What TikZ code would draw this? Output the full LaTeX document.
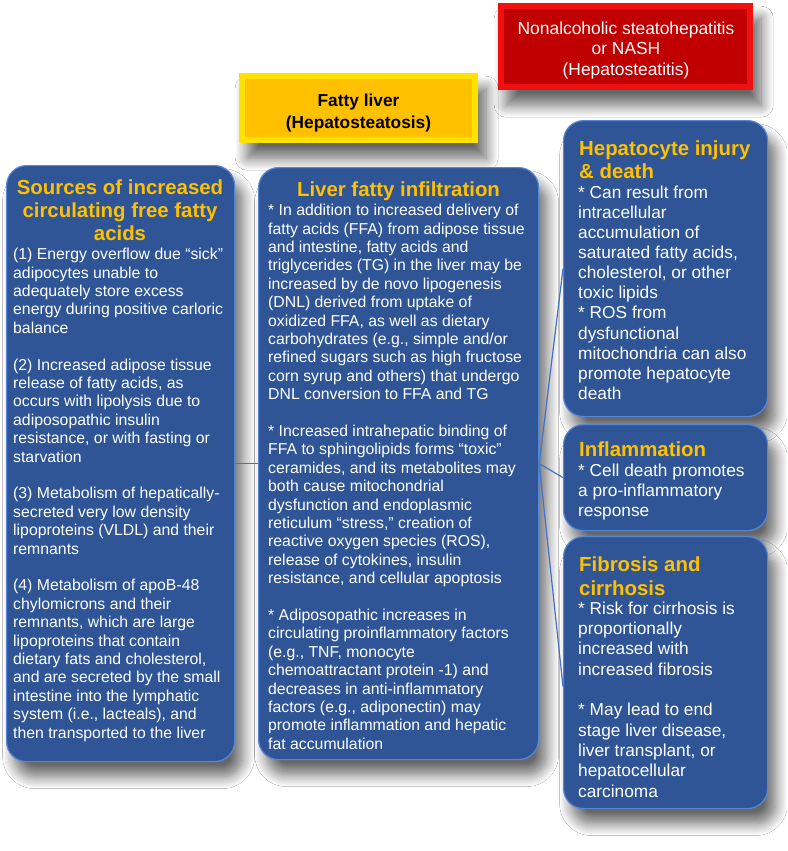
\documentclass[tikz,border=0pt]{standalone}
\usepackage{fontspec}
\setmainfont{Liberation Sans}
\usetikzlibrary{shadows.blur}
\definecolor{boxblue}{RGB}{47,85,151}
\definecolor{edgeblue}{RGB}{86,134,214}
\definecolor{ttl}{RGB}{255,192,0}
\definecolor{linkblue}{RGB}{68,114,196}
\definecolor{redmain}{RGB}{192,0,0}
\definecolor{rededge}{RGB}{240,16,16}
\definecolor{yelmain}{RGB}{255,192,0}
\definecolor{yeledge}{RGB}{255,226,0}
\begin{document}
\begin{tikzpicture}[x=1pt,y=-1pt,
  shad/.style={blur shadow={shadow xshift=8pt,shadow yshift=-15pt,shadow blur radius=12pt,shadow blur steps=14,shadow opacity=60}},
  bluebox/.style={shad, rounded corners=20pt, fill=boxblue, draw=edgeblue, line width=1.2pt, inner sep=0pt, anchor=north west},
  flatbox/.style={shad, inner sep=0pt, anchor=north west},
  ttlfont/.style={font=\bfseries\fontsize{20.4}{23.2}\selectfont, text=ttl, inner sep=0pt},
  bodyL/.style={font=\fontsize{15.8}{18.4}\selectfont, text=white, align=left, inner sep=0pt, anchor=north west},
  bodyR/.style={font=\fontsize{17.3}{20.1}\selectfont, text=white, align=left, inner sep=0pt, anchor=north west},
  link/.style={draw=linkblue, line width=1.2pt}
]
\fill[white] (0,0) rectangle (787,851);
\useasboundingbox (0,0) rectangle (787,851);

% top boxes
\node[flatbox, fill=rededge, minimum width=255pt, minimum height=87pt] (nash) at (498,3) {};
\fill[redmain] ([shift={(6,6)}]nash.north west) rectangle ([shift={(-6,-6)}]nash.south east);
\node[anchor=north, font=\fontsize{17.4}{20.5}\selectfont, text=white, align=center, inner sep=0pt] (nashT) at (626,21.5) {Nonalcoholic steatohepatitis\\or NASH\\(Hepatosteatitis)};

\node[flatbox, fill=yeledge, minimum width=239pt, minimum height=70pt] (fatty) at (239,73) {};
\fill[yelmain] ([shift={(6,6)}]fatty.north west) rectangle ([shift={(-6,-6)}]fatty.south east);
\node[anchor=north, font=\bfseries\fontsize{17.3}{22}\selectfont, text=black, align=center, inner sep=0pt] (fattyT) at (358.5,93.6) {Fatty liver\\(Hepatosteatosis)};

% blue boxes
\node[bluebox, minimum width=228pt, minimum height=596pt] (src) at (6,165) {};
\node[bluebox, minimum width=280pt, minimum height=592pt] (liver) at (258,167) {};
\node[bluebox, minimum width=204pt, minimum height=296pt] (hep) at (563,120) {};
\node[bluebox, minimum width=204pt, minimum height=106pt] (infl) at (563,424) {};
\node[bluebox, minimum width=204pt, minimum height=272pt] (fib) at (563,536) {};

% connectors
\draw[link] (src.east) -- (liver.west);
\draw[link] (liver.east) -- (hep.west);
\draw[link] (liver.east) -- (infl.west);
\draw[link] (liver.east) -- ([yshift=-14pt]fib.west);

% texts
\node[ttlfont, anchor=north, align=center] (srcT) at (120,179.5) {Sources of increased\\circulating free fatty\\acids};
\node[bodyL] (srcB) at (13,248) {(1) Energy overflow due “sick”\\
adipocytes unable to\\
adequately store excess\\
energy during positive carloric\\
balance\\[18.4pt]
(2) Increased adipose tissue\\
release of fatty acids, as\\
occurs with lipolysis due to\\
adiposopathic insulin\\
resistance, or with fasting or\\
starvation\\[18.4pt]
(3) Metabolism of hepatically-\\
secreted very low density\\
lipoproteins (VLDL) and their\\
remnants\\[18.4pt]
(4) Metabolism of apoB-48\\
chylomicrons and their\\
remnants, which are large\\
lipoproteins that contain\\
dietary fats and cholesterol,\\
and are secreted by the small\\
intestine into the lymphatic\\
system (i.e., lacteals), and\\
then transported to the liver};

\node[ttlfont, anchor=north, align=center] (livT) at (398.5,181.5) {Liver fatty infiltration};
\node[bodyL] (livB) at (268,204) {{*} In addition to increased delivery of\\
fatty acids (FFA) from adipose tissue\\
and intestine, fatty acids and\\
triglycerides (TG) in the liver may be\\
increased by de novo lipogenesis\\
(DNL) derived from uptake of\\
oxidized FFA, as well as dietary\\
carbohydrates (e.g., simple and/or\\
refined sugars such as high fructose\\
corn syrup and others) that undergo\\
DNL conversion to FFA and TG\\[18.4pt]
{*} Increased intrahepatic binding of\\
FFA to sphingolipids forms “toxic”\\
ceramides, and its metabolites may\\
both cause mitochondrial\\
dysfunction and endoplasmic\\
reticulum “stress,” creation of\\
reactive oxygen species (ROS),\\
release of cytokines, insulin\\
resistance, and cellular apoptosis\\[18.4pt]
{*} Adiposopathic increases in\\
circulating proinflammatory factors\\
(e.g., TNF, monocyte\\
chemoattractant protein -1) and\\
decreases in anti-inflammatory\\
factors (e.g., adiponectin) may\\
promote inflammation and hepatic\\
fat accumulation};

\node[ttlfont, anchor=north west, align=left] (hepT) at (579,140.5) {Hepatocyte injury\\\& death};
\node[bodyR] (hepB) at (578,185.6) {{*} Can result from\\
intracellular\\
accumulation of\\
saturated fatty acids,\\
cholesterol, or other\\
toxic lipids\\
{*} ROS from\\
dysfunctional\\
mitochondria can also\\
promote hepatocyte\\
death};

\node[ttlfont, anchor=north west, align=left] (inflT) at (579,441.5) {Inflammation};
\node[bodyR] (inflB) at (578,463.6) {{*} Cell death promotes\\
a pro-inflammatory\\
response};

\node[ttlfont, anchor=north west, align=left, font=\bfseries\fontsize{20.4}{24}\selectfont] (fibT) at (579,556.5) {Fibrosis and\\cirrhosis};
\node[bodyR, font=\fontsize{17.3}{20.3}\selectfont] (fibB) at (578,601.6) {{*} Risk for cirrhosis is\\
proportionally\\
increased with\\
increased fibrosis\\[20.3pt]
{*} May lead to end\\
stage liver disease,\\
liver transplant, or\\
hepatocellular\\
carcinoma};
\end{tikzpicture}
\end{document}
